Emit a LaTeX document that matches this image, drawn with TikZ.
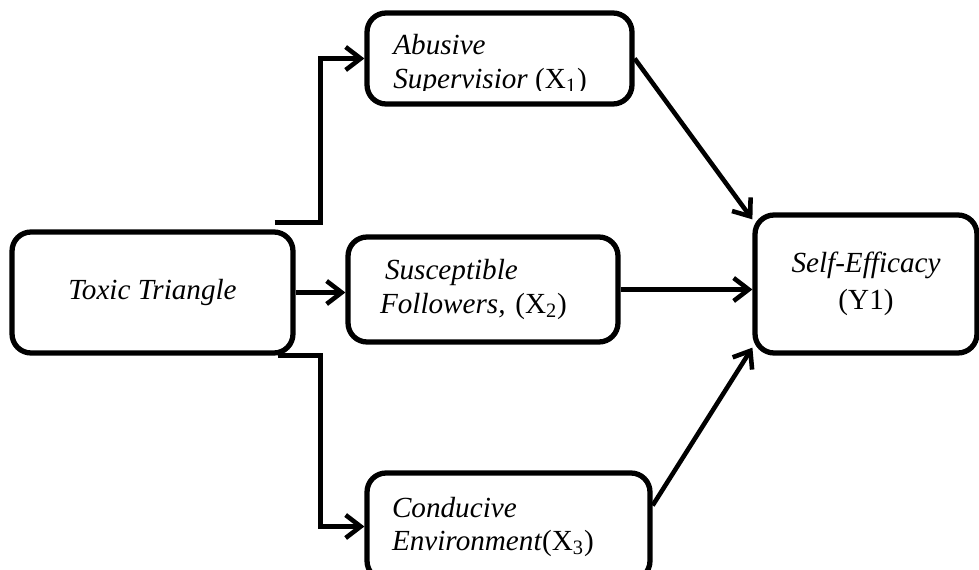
\documentclass[tikz,border=0pt]{standalone}
\usepackage{fontspec}
\setmainfont{Liberation Serif}[ItalicFont={Liberation Serif Italic}]
\usetikzlibrary{positioning,arrows.meta}

\begin{document}
\begin{tikzpicture}[x=0.02cm,y=-0.02cm,font=\fontsize{16.6}{18.8}\selectfont,
  box/.style={draw,line width=3pt,rounded corners=0.38cm,inner ysep=0pt},
  link/.style={line width=2.6pt,-{Straight Barb[length=3mm,width=4.6mm]}}]
\useasboundingbox (0,0) rectangle (979,570);
% boxes
\node[box,minimum width=5.62cm,minimum height=2.42cm] (toxic) at (152.5,292.5) {\textit{Toxic Triangle}};
\node[box,minimum width=5.30cm,minimum height=1.82cm] (abuse) at (499.5,58.5) {};
\begin{scope}
\clip (367,0) rectangle (632,91);
\node[align=left,anchor=west,inner sep=0pt] (abusetext) at (393,64.5) {\textit{Abusive}\\\textit{Supervisior} (X\textsubscript{1})};
\end{scope}
\node[box,minimum width=5.40cm,minimum height=2.10cm,inner xsep=0.64cm,text width=4.12cm,align=left] (follow) at (483,289.5)
  {\hspace*{0.1cm}\textit{Susceptible}\\\textit{Followers,} (X\textsubscript{2})};
\node[box,minimum width=5.66cm,minimum height=2.14cm,inner xsep=0.5cm,text width=4.66cm,align=left] (environ) at (508.5,526.5)
  {\textit{Conducive}\\\textit{Environment}(X\textsubscript{3})};
\node[box,minimum width=4.44cm,minimum height=2.76cm,align=center] (efficacy) at (866,284)
  {\textit{Self-Efficacy}\\[2pt](Y1)};
% arrows
\draw[link] ([xshift=-0.42cm,yshift=0.14cm]toxic.north east) -- ++(46,0) |- (abuse.west);
\draw[link] (toxic.east) -- (toxic.east -| follow.west);
\draw[link] ([xshift=-0.36cm]toxic.south east) -- ++(43,0) |- (environ.west);
\draw[link] (abuse.east) -- ([yshift=-0.14cm]efficacy.north west);
\draw[link] (follow.east) -- (follow.east -| efficacy.west);
\draw[link] ([yshift=0.42cm]environ.east) -- ([yshift=0.16cm]efficacy.south west);
\end{tikzpicture}
\end{document}
